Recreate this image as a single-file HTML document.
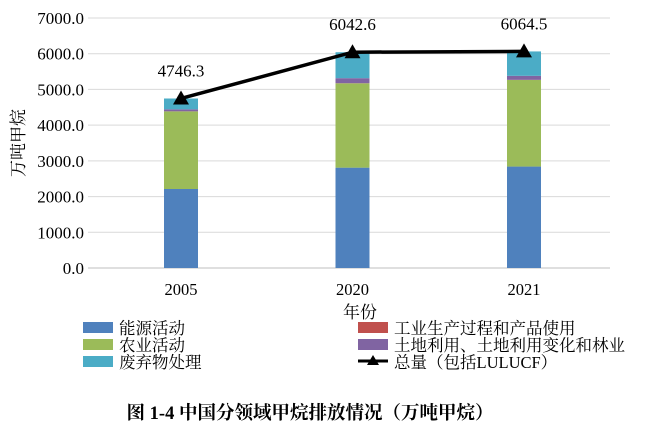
<!DOCTYPE html>
<html><head><meta charset="utf-8"><style>
body{margin:0;background:#fff;}
svg text{font-family:"Liberation Serif","Noto Serif CJK SC",serif;fill:#000;}
</style></head><body>
<svg width="647" height="442" viewBox="0 0 647 442">
<g id="grid"></g><g id="bars"></g><g id="line"></g>
<text x="24" y="143" font-size="17" text-anchor="middle" transform="rotate(-90 24 143)">万吨甲烷</text>
<text x="360" y="318" font-size="17" text-anchor="middle">年份</text>
<g font-size="16.5">
<rect x="83" y="322" width="30" height="11" fill="#4f81bd"/>
<text x="119" y="334">能源活动</text>
<rect x="83" y="339" width="30" height="11" fill="#9bbb59"/>
<text x="119" y="351">农业活动</text>
<rect x="83" y="356" width="30" height="11" fill="#4bacc6"/>
<text x="119" y="368">废弃物处理</text>
<rect x="358" y="322" width="30" height="11" fill="#c0504d"/>
<text x="394" y="334">工业生产过程和产品使用</text>
<rect x="358" y="339" width="30" height="11" fill="#8064a2"/>
<text x="394" y="351">土地利用、土地利用变化和林业</text>
<line x1="358" y1="361" x2="388" y2="361" stroke="#000" stroke-width="3"/>
<polygon points="373,355 379,365 367,365" fill="#000"/>
<text x="394" y="368">总量（包括LULUCF）</text>
</g>
<text x="310" y="419" font-size="18.5" font-weight="bold" text-anchor="middle">图 1-4 中国分领域甲烷排放情况（万吨甲烷）</text>
</svg>
<script>
const categories=["2005","2020","2021"];
const energy=[2212,2810,2840];
const agriculture=[2171,2360,2424];
const industry=[5,5,5];
const lulucf=[55,140,112];
const waste=[303,727,683];
const totals=[4746.3,6042.6,6064.5];
const yTicks=[0,1000,2000,3000,4000,5000,6000,7000];
const NS="http://www.w3.org/2000/svg";
const y=v=>268-v*250/7000;
const x=i=>181+i*171.5;
function mk(t,a,p){const e=document.createElementNS(NS,t);for(const k in a)e.setAttribute(k,a[k]);p.appendChild(e);return e;}
const grid=document.getElementById('grid');
yTicks.forEach(t=>{
 const l=mk('line',{x1:88,x2:610,y1:y(t),y2:y(t),stroke:t===0?'#bfbfbf':'#d9d9d9','stroke-width':1},grid);
 
 
 const tx=mk('text',{x:84,y:y(t)+6,'font-size':17,'text-anchor':'end'},grid);
 tx.textContent=t.toFixed(1);
 
 
});
categories.forEach((c,i)=>{
 const tx=mk('text',{x:x(i),y:295,'font-size':16.5,'text-anchor':'middle'},grid);
 tx.textContent=c;
 
 
});
const series=[[energy,'#4f81bd','energy'],[agriculture,'#9bbb59','agriculture'],[industry,'#c0504d','industry'],[lulucf,'#8064a2','lulucf'],[waste,'#4bacc6','waste']];
const bars=document.getElementById('bars');
categories.forEach((c,i)=>{
 let acc=0;
 series.forEach(([arr,col,n])=>{
  const r=mk('rect',{x:x(i)-17,width:34,y:y(acc+arr[i]),height:y(acc)-y(acc+arr[i]),fill:col},bars);
  
  
  acc+=arr[i];
 });
});
const lg=document.getElementById('line');
const pl=mk('polyline',{points:totals.map((v,i)=>x(i)+','+y(v)).join(' '),fill:'none',stroke:'#000','stroke-width':3.5},lg);


totals.forEach((v,i)=>{
 const cx=x(i),cy=y(v);
 const p=mk('polygon',{points:`${cx},${cy-8} ${cx+8},${cy+6} ${cx-8},${cy+6}`,fill:'#000'},lg);
 
 
 const t=mk('text',{x:cx,y:cy-22,'font-size':17,'text-anchor':'middle'},lg);
 t.textContent=v.toFixed(1);
 
 
});
</script>
</body></html>
